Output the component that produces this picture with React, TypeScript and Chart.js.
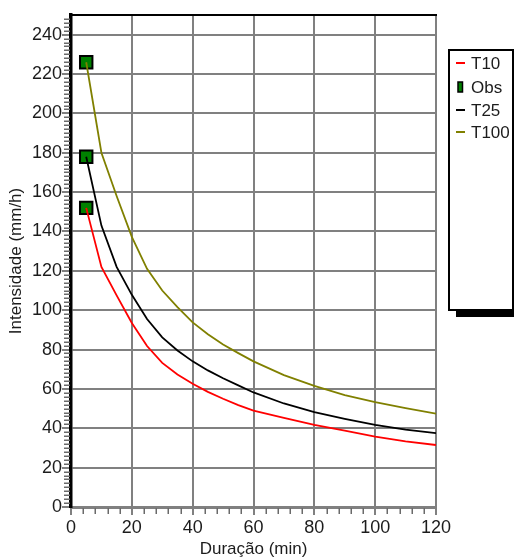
import React, { useEffect, useRef } from 'react';
import { Chart, registerables } from 'chart.js';

Chart.register(...registerables);

const durations = [5, 10, 15, 20, 25, 30, 35, 40, 45, 50, 55, 60, 70, 80, 90, 100, 110, 120];
const t10Values = [152, 122, 107.5, 93.5, 81.8, 73.2, 67.3, 62.6, 58.5, 55, 51.8, 49, 45.3, 41.7, 38.8, 35.8, 33.4, 31.5];
const t25Values = [178, 143, 122, 107.8, 95.5, 86.2, 79.5, 74, 69.4, 65.4, 61.8, 58.2, 52.6, 48.2, 44.8, 41.7, 39.3, 37.5];
const t100Values = [226, 180, 158, 137.3, 121, 110, 101.6, 93.8, 87.8, 82.6, 78.2, 74, 67, 61.5, 56.8, 53.3, 50.3, 47.4];
const obsDurations = [5, 5, 5];
const obsValues = [226, 178, 152];
const seriesLabels = ['T10', 'Obs', 'T25', 'T100'];
const seriesColors = ['#ff0000', '#008000', '#000000', '#808000'];
const xTitle = 'Duração (min)';
const yTitle = 'Intensidade (mm/h)';

const FONT = "'Liberation Sans', Arial, sans-serif";
const TEXT = '#1c1c1c';

const frameAndMinorTicks = {
  id: 'frameAndMinorTicks',
  afterDraw(chart: any) {
    const { ctx, scales } = chart;
    const x = scales.x;
    const y = scales.y;
    ctx.save();
    ctx.strokeStyle = '#000';
    ctx.lineWidth = 2;
    ctx.beginPath();
    ctx.moveTo(x.left - 1, Math.round(y.top));
    ctx.lineTo(x.right + 1, Math.round(y.top));
    ctx.stroke();
    ctx.strokeStyle = '#6a6a6a';
    ctx.lineWidth = 1.5;
    for (let v = 2; v < 250; v += 2) {
      if (v % 20 === 0) continue;
      const py = Math.round(y.getPixelForValue(v)) + 0.25;
      ctx.beginPath();
      ctx.moveTo(x.left - 7, py);
      ctx.lineTo(x.left - 1, py);
      ctx.stroke();
    }
    for (let v = 4; v < 120; v += 4) {
      if (v % 20 === 0) continue;
      const px = Math.round(x.getPixelForValue(v)) + 0.25;
      ctx.beginPath();
      ctx.moveTo(px, y.bottom + 1);
      ctx.lineTo(px, y.bottom + 7);
      ctx.stroke();
    }
    ctx.restore();
  },
};

const boxLegend = {
  id: 'boxLegend',
  afterDraw(chart: any) {
    const { ctx } = chart;
    const left = 449;
    const top = 50;
    const w = 64;
    const h = 260;
    ctx.save();
    ctx.fillStyle = '#000';
    ctx.fillRect(left + 7, top + h, w - 6, 7);
    ctx.fillStyle = '#fff';
    ctx.fillRect(left, top, w, h);
    ctx.strokeStyle = '#000';
    ctx.lineWidth = 2;
    ctx.strokeRect(left, top, w, h);
    const rows = [63, 87, 110, 132];
    ctx.font = `17px ${FONT}`;
    ctx.textBaseline = 'middle';
    ctx.textAlign = 'left';
    chart.data.datasets.forEach((ds: any, i: number) => {
      const cy = rows[i];
      if (ds.showLine === false) {
        ctx.fillStyle = ds.pointBackgroundColor;
        ctx.fillRect(458, cy - 5, 4.5, 10);
        ctx.strokeStyle = '#000';
        ctx.lineWidth = 1.5;
        ctx.strokeRect(458, cy - 5, 4.5, 10);
      } else {
        ctx.strokeStyle = ds.borderColor;
        ctx.lineWidth = 2;
        ctx.beginPath();
        ctx.moveTo(456, cy);
        ctx.lineTo(465, cy);
        ctx.stroke();
      }
      ctx.fillStyle = TEXT;
      ctx.fillText(ds.label, 471, cy + 1);
    });
    ctx.restore();
  },
};

export default function App() {
  const ref = useRef<HTMLCanvasElement | null>(null);

  useEffect(() => {
    if (!ref.current) return;
    const toXY = (xs: number[], ys: number[]) => xs.map((x, i) => ({ x, y: ys[i] }));
    const lineDs = (idx: number, values: number[]) => ({
      label: seriesLabels[idx],
      data: toXY(durations, values),
      borderColor: seriesColors[idx],
      borderWidth: 1.8,
      pointRadius: 0,
      tension: 0,
      fill: false,
      order: 1,
    });
    const chart = new Chart(ref.current, {
      type: 'line',
      data: {
        datasets: [
          lineDs(0, t10Values) as any,
          {
            label: seriesLabels[1],
            data: toXY(obsDurations, obsValues),
            showLine: false,
            pointStyle: 'rect',
            pointRadius: 8.8,
            pointBackgroundColor: seriesColors[1],
            pointBorderColor: '#000',
            pointBorderWidth: 2,
            borderColor: '#000',
            order: 10,
          } as any,
          lineDs(2, t25Values) as any,
          lineDs(3, t100Values) as any,
        ],
      },
      options: {
        responsive: false,
        animation: false,
        layout: { padding: { top: 15, right: 79, left: 0, bottom: 0 } },
        plugins: {
          legend: { display: false },
          tooltip: { enabled: false },
        },
        scales: {
          x: {
            type: 'linear',
            min: 0,
            max: 120,
            afterFit: (s: any) => {
              s.height = 53;
            },
            ticks: { stepSize: 20, color: TEXT, font: { family: FONT, size: 18 }, padding: 2, maxRotation: 0 },
            grid: { color: '#808080', lineWidth: 2, tickLength: 8, tickColor: '#808080', tickWidth: 2 },
            border: { color: '#808080', width: 3 },
            title: { display: true, text: xTitle, color: TEXT, font: { family: FONT, size: 17 }, padding: { top: 0, bottom: 0 } },
          },
          y: {
            type: 'linear',
            min: 0,
            max: 250,
            afterFit: (s: any) => {
              s.width = 71;
            },
            ticks: {
              stepSize: 20,
              includeBounds: false,
              color: TEXT,
              font: { family: FONT, size: 18 },
              padding: 0,
            },
            grid: {
              color: '#808080',
              lineWidth: 2,
              tickLength: 9,
              tickColor: '#808080',
              tickWidth: 2,
            },
            border: { color: '#000', width: 3.5 },
            title: { display: true, text: yTitle, color: TEXT, font: { family: FONT, size: 17 }, padding: { top: 6, bottom: 0 } },
          },
        },
      },
      plugins: [frameAndMinorTicks, boxLegend],
    });
    return () => chart.destroy();
  }, []);

  return (
    <div style={{ position: 'fixed', left: 0, top: 0, width: 515, height: 560, background: '#fff' }}>
      <canvas ref={ref} width={515} height={560} style={{ display: 'block' }} />
    </div>
  );
}
